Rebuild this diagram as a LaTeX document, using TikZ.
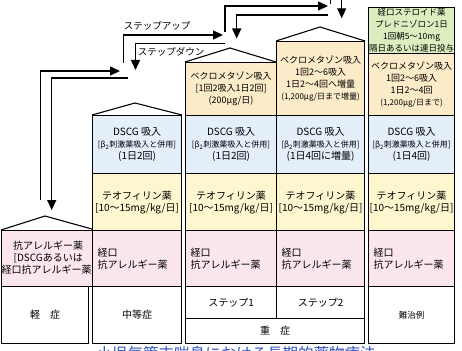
\documentclass[tikz,border=0pt]{standalone}
\usepackage{fontspec}
\setmainfont{Noto Sans CJK JP}
\usetikzlibrary{arrows.meta}
\definecolor{cOr}{HTML}{FCEBC9}
\definecolor{cBl}{HTML}{E4EFFA}
\definecolor{cYe}{HTML}{FDF7CF}
\definecolor{cPk}{HTML}{FBE7EB}
\definecolor{cGr}{HTML}{DBEEBF}
\definecolor{cTi}{HTML}{3050C0}
\newcommand\mycell[7]{\node[cell, fill=#6, minimum width=#4pt, minimum height=#5pt] (#1) at (#2,#3) {#7};}
\newcommand\bt{{\fontsize{8}{9}\selectfont [\textit{β}\textsubscript{2}刺激薬吸入と併用]}}
\begin{document}
\begin{tikzpicture}[x=1pt,y=-1pt,
  cell/.style={draw, line width=1.1pt, rectangle, inner sep=0pt, anchor=north west, align=center,
    font=\fontsize{10}{12}\selectfont},
  lcell/.style={cell, align=left, text width=#1, inner xsep=5pt},
  roof/.style={draw, line width=1.1pt, line join=miter},
  arr/.style={line width=1.3pt, -{Triangle[length=10pt,width=9pt]}},
  lab/.style={font=\fontsize{9.5}{11}\selectfont, inner sep=0pt}]
\useasboundingbox (0,0) rectangle (462,350);
% column 1
\mycell{k1}{1}{230}{87}{56}{cPk}{抗アレルギー薬\\{[DSCGあるいは}\\経口抗アレルギー薬]}
\mycell{k2}{1}{286}{87}{57}{white}{軽　症}
\coordinate (k0) at (45,216);
\draw[roof] (k1.north west) -- (k0) -- (k1.north east);
% column 2
\mycell{m1}{92}{115}{89}{58}{cBl}{DSCG 吸入\\\bt\\(1日2回)}
\mycell{m2}{92}{173}{89}{57}{cYe}{テオフィリン薬\\{[10〜15mg/kg/日]}}
\node[lcell=79pt, fill=cPk, minimum width=89pt, minimum height=56pt] (m3) at (92,230) {経口\\抗アレルギー薬};
\mycell{m4}{92}{286}{89}{57}{white}{中等症}
\coordinate (m0) at (135,103);
\draw[roof] (m1.north west) -- (m0) -- (m1.north east);
% step 1
\mycell{s1a}{185}{62}{91}{53}{cOr}{{\fontsize{9}{11}\selectfont ベクロメタゾン吸入}\\{\fontsize{9}{11}\selectfont [1回2吸入1日2回]}\\{\fontsize{9}{11}\selectfont (200μg/日)}}
\mycell{s1b}{185}{115}{91}{58}{cBl}{DSCG 吸入\\\bt\\(1日2回)}
\mycell{s1c}{185}{173}{91}{57}{cYe}{テオフィリン薬\\{[10〜15mg/kg/日]}}
\node[lcell=81pt, fill=cPk, minimum width=91pt, minimum height=56pt] (s1d) at (185,230) {経口\\抗アレルギー薬};
\mycell{s1e}{185}{286}{91}{32}{white}{ステップ1}
\coordinate (s10) at (230,48);
\draw[roof] (s1a.north west) -- (s10) -- (276,62);
% step 2
\mycell{s2a}{276}{41}{88}{74}{cOr}{{\fontsize{9}{10.5}\selectfont ベクロメタゾン吸入}\\{\fontsize{9}{10.5}\selectfont 1回2〜6吸入}\\{\fontsize{9}{10.5}\selectfont 1日2〜4回へ増量}\\{\fontsize{8}{10.5}\selectfont (1,200μg/日まで増量)}}
\mycell{s2b}{276}{115}{88}{58}{cBl}{DSCG 吸入\\\bt\\(1日4回に増量)}
\mycell{s2c}{276}{173}{88}{57}{cYe}{テオフィリン薬\\{[10〜15mg/kg/日]}}
\node[lcell=78pt, fill=cPk, minimum width=88pt, minimum height=56pt] (s2d) at (276,230) {経口\\抗アレルギー薬};
\mycell{s2e}{276}{286}{88}{32}{white}{ステップ2}
\coordinate (s20) at (320,27);
\draw[roof] (s2a.north west) -- (s20) -- (s2a.north east);
\mycell{jj}{185}{318}{179}{25}{white}{重　症}
% column 4
\mycell{n0}{368}{7}{86}{46}{cGr}{{\fontsize{8.5}{10.3}\selectfont 経口ステロイド薬}\\{\fontsize{8.5}{10.3}\selectfont プレドニゾロン1日}\\{\fontsize{8.5}{10.3}\selectfont 1回朝5〜10mg}\\{\fontsize{8.5}{10.3}\selectfont 隔日あるいは連日投与}}
\mycell{n1}{368}{53}{86}{62}{cOr}{{\fontsize{9}{10}\selectfont ベクロメタゾン吸入}\\{\fontsize{9}{10}\selectfont 1回2〜6吸入}\\{\fontsize{9}{10}\selectfont 1日2〜4回}\\{\fontsize{8}{11}\selectfont (1,200μg/日まで)}}
\mycell{n2}{368}{115}{86}{58}{cBl}{DSCG 吸入\\\bt\\(1日4回)}
\mycell{n3}{368}{173}{86}{57}{cYe}{テオフィリン薬\\{[10〜15mg/kg/日]}}
\node[lcell=76pt, fill=cPk, minimum width=86pt, minimum height=56pt] (n4) at (368,230) {経口\\抗アレルギー薬};
\mycell{n5}{368}{286}{86}{57}{white}{{\fontsize{8.5}{10}\selectfont 難治例}}
% arrows
\coordinate (a1s) at (40.7,200); \coordinate (a1t) at (120,71);
\coordinate (a2s) at (128.3,78); \coordinate (a2t) at (51.7,210);
\coordinate (a3s) at (123.3,63); \coordinate (a3t) at (223,35);
\coordinate (a4s) at (225,43.5); \coordinate (a4t) at (135.5,70);
\coordinate (a5s) at (225,31.7); \coordinate (a5t) at (328,6);
\coordinate (a6s) at (328,15); \coordinate (a6t) at (236.7,38.5);
\coordinate (a7s) at (330.7,4); \coordinate (a7t) at (330.7,-3);
\coordinate (a8s) at (341.7,-3); \coordinate (a8t) at (341.7,18.3);
\draw[arr] (a1s) |- (a1t);
\draw[arr] (a2s) -| (a2t);
\draw[arr] (a3s) |- (a3t);
\draw[arr] (a4s) -| (a4t);
\draw[arr] (a5s) |- (a5t);
\draw[arr] (a6s) -| (a6t);
\draw[line width=1.3pt] (a7s) -- (a7t);
\draw[arr] (a8s) -- (a8t);
\node[lab] (up) at (157,26) {ステップアップ};
\node[lab] (down) at (171,52) {ステップダウン};
\begin{scope}
\clip (0,0) rectangle (462,350);
\node[font=\fontsize{15.5}{16}\selectfont, text=cTi, anchor=base, inner sep=0pt] (title) at (236,359) {小児気管支喘息における長期的薬物療法};
\end{scope}
\end{tikzpicture}
\end{document}
